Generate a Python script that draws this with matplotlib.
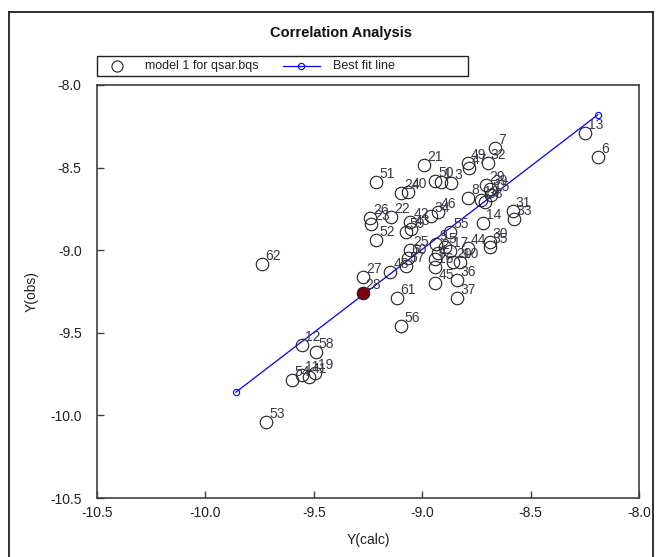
import matplotlib
matplotlib.use("Agg")
import matplotlib.pyplot as plt
from matplotlib.lines import Line2D
from matplotlib.patches import Rectangle

plt.rcParams['font.family'] = ['Liberation Sans', 'DejaVu Sans']

labels = [str(i) for i in range(1, 63)]
y_calc = [-8.913, -8.927, -8.867, -8.940, -8.894, -8.188, -8.665, -8.789, -8.936, -8.826,
          -9.555, -9.555, -8.248, -8.720, -8.683, -8.940, -8.872, -8.729, -9.495, -8.858,
          -8.991, -9.142, -9.234, -9.096, -9.055, -9.239, -9.271, -9.275, -8.706, -8.688,
          -8.583, -8.697, -8.578, -8.959, -8.688, -8.839, -8.839, -8.711, -8.688, -9.064,
          -9.523, -9.055, -9.050, -8.789, -8.940, -8.927, -8.784, -9.147, -8.789, -8.940,
          -9.211, -9.211, -9.720, -9.601, -8.872, -9.096, -9.073, -9.491, -9.073, -9.064,
          -9.115, -9.739]
y_obs = [-8.586, -9.016, -8.593, -9.052, -8.979, -8.435, -8.381, -8.683, -8.961, -9.070,
         -9.753, -9.572, -8.290, -8.834, -8.665, -9.100, -9.004, -8.695, -9.741, -9.070,
         -8.484, -8.798, -8.840, -8.653, -8.998, -8.804, -9.161, -9.258, -8.605, -8.949,
         -8.762, -8.472, -8.810, -8.792, -8.979, -9.179, -9.288, -8.707, -8.629, -8.647,
         -9.765, -8.828, -8.871, -8.985, -9.197, -8.768, -8.502, -9.131, -8.472, -8.580,
         -8.586, -8.937, -10.037, -9.784, -8.889, -9.457, -9.094, -9.614, -8.889, -9.046,
         -9.288, -9.082]
highlight = "28"
fit_x = [-9.86, -8.19]
fit_y = [-9.86, -8.18]

xticks = [-10.5, -10.0, -9.5, -9.0, -8.5, -8.0]
yticks = [-10.5, -10.0, -9.5, -9.0, -8.5, -8.0]

W, H = 663, 557
fig = plt.figure(figsize=(W / 100, H / 100), dpi=100)

def fx(px):
    return px / W

def fy(py):
    return 1 - py / H

ax = fig.add_axes([fx(97), fy(498), (639 - 97) / W, (498 - 85) / H])
ax.set_xlim(-10.5, -8.0)
ax.set_ylim(-10.5, -8.0)

ax.plot(fit_x, fit_y, color='#0000ff', lw=0.9, marker='o', mfc='none',
        mec='#0000ff', ms=4.5, mew=0.8, zorder=2)

for lab, xv, yv in zip(labels, y_calc, y_obs):
    if lab == highlight:
        ax.plot(xv, yv, 'o', ms=9, mfc='#7a0010', mec='#202020', mew=0.8, zorder=4)
    else:
        ax.plot(xv, yv, 'o', ms=9, mfc='none', mec='#202020', mew=0.8, zorder=3)
    ax.annotate(lab, (xv, yv), xytext=(3, 4), textcoords='offset pixels',
                ha='left', va='baseline', fontsize=10, color='#3a3a48', zorder=5)

ax.set_xticks(xticks)
ax.set_yticks(yticks)
ax.set_xticklabels([f"{t:.1f}" for t in xticks])
ax.set_yticklabels([f"{t:.1f}" for t in yticks])
ax.tick_params(axis='both', direction='in', length=5, width=1, color='#404040',
               labelsize=10, labelcolor='#202020')
ax.tick_params(axis='x', pad=6)
ax.tick_params(axis='y', pad=11)
for s in ax.spines.values():
    s.set_color('#404040')
    s.set_linewidth(1.2)

ax.set_xlabel("Y(calc)", fontsize=10, color='#202020', labelpad=9)
ax.set_ylabel("Y(obs)", fontsize=10, color='#202020', labelpad=8)

fig.text(fx(341), fy(33), "Correlation Analysis", ha='center', va='center',
         fontsize=10.5, fontweight='bold', color='#101010')

# legend box
fig.add_artist(Rectangle((fx(97), fy(76)), (468 - 97) / W, (76 - 56) / H,
                         transform=fig.transFigure, fill=False, ec='#202020', lw=1))
fig.add_artist(Line2D([fx(117)], [fy(66)], marker='o', ms=8, mfc='none', mec='#202020',
                      mew=0.8, transform=fig.transFigure))
fig.text(fx(145), fy(66), "model 1 for qsar.bqs", ha='left', va='center', fontsize=9,
         color='#202020')
fig.add_artist(Line2D([fx(283), fx(320)], [fy(66), fy(66)], color='#0000ff', lw=0.9,
                      transform=fig.transFigure))
fig.add_artist(Line2D([fx(301)], [fy(66)], marker='o', ms=4.5, mfc='none', mec='#0000ff',
                      mew=0.8, transform=fig.transFigure))
fig.text(fx(333), fy(66), "Best fit line", ha='left', va='center', fontsize=9,
         color='#202020')

# outer frame
for xs, ys in [([9, 9], [12, 557]), ([9, 653], [12, 12]), ([653, 653], [12, 557])]:
    fig.add_artist(Line2D([fx(v) for v in xs], [fy(v) for v in ys], color='#202020',
                          lw=1.3, transform=fig.transFigure))

fig.savefig("out.png", dpi=100)
